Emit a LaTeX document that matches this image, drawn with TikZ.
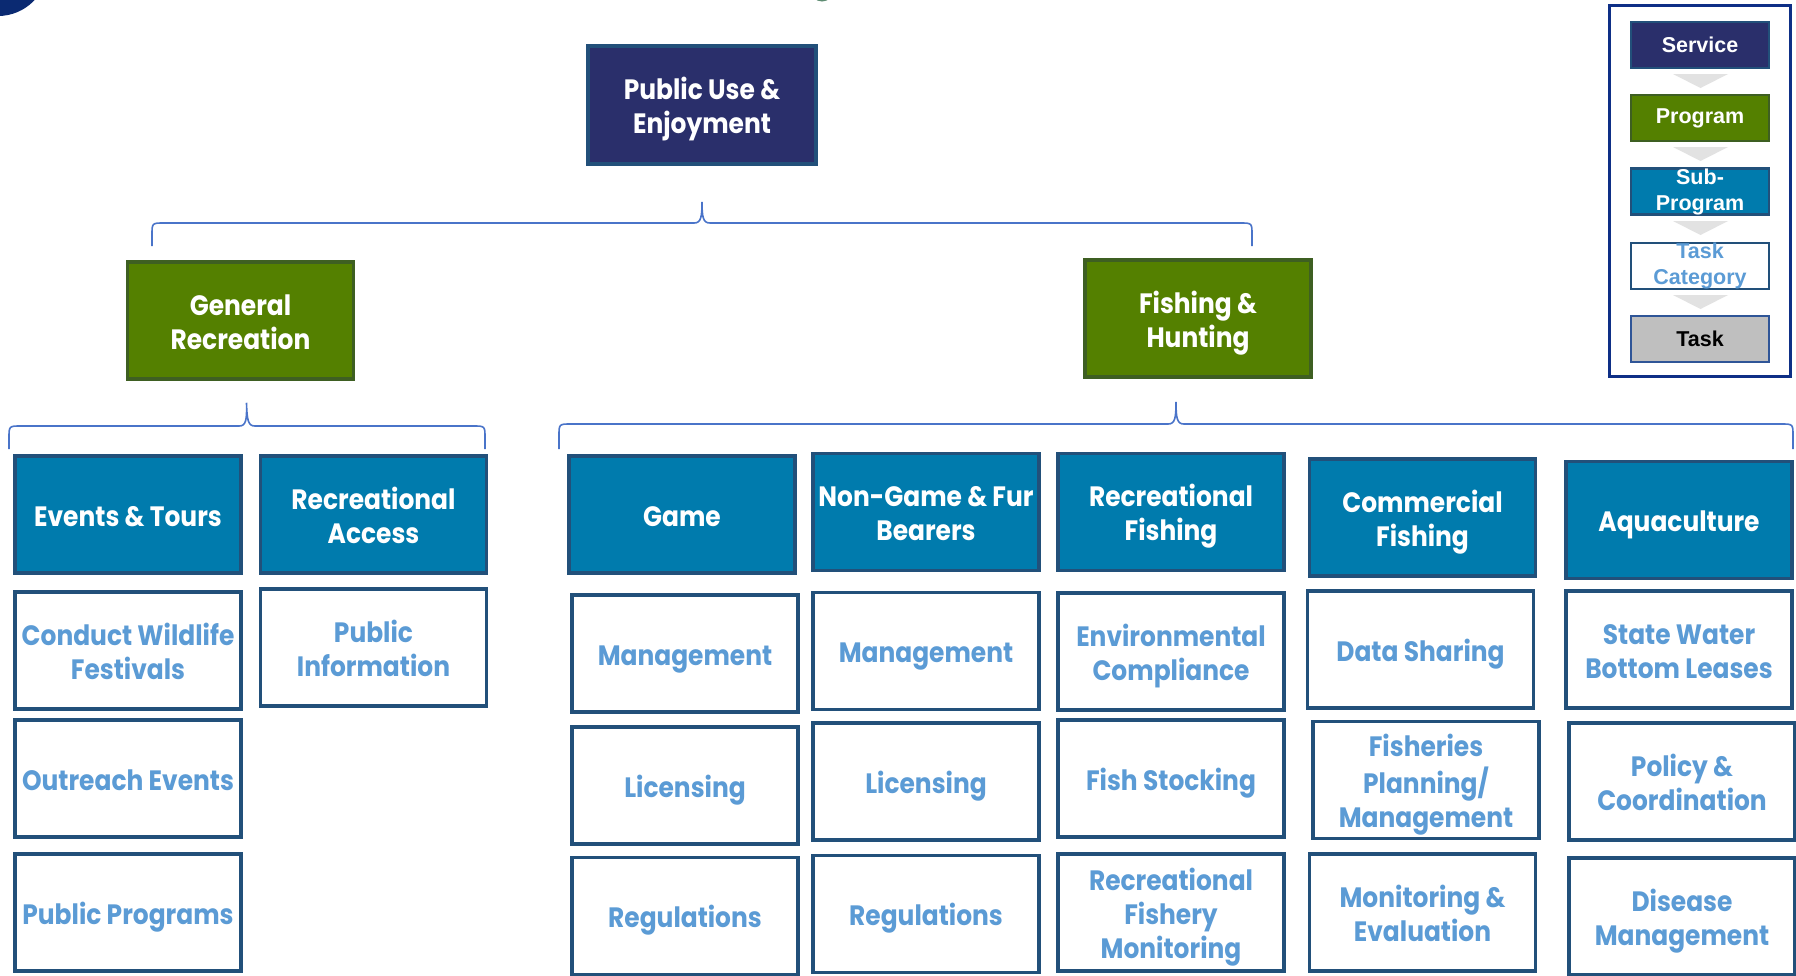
\documentclass[tikz,border=0pt]{standalone}
\usepackage{fontspec}
\setmainfont{Poppins}[FakeStretch=0.89]
\newfontfamily\legendfont{Liberation Sans}
\usetikzlibrary{calc}
\definecolor{navyfill}{HTML}{2A2F6B}
\definecolor{bordblue}{HTML}{22507A}
\definecolor{progfill}{HTML}{548000}
\definecolor{progbord}{HTML}{3E5F22}
\definecolor{subfill}{HTML}{007BAD}
\definecolor{tasktext}{HTML}{5B9BD5}
\definecolor{bracecol}{HTML}{4A74C9}
\definecolor{legframe}{HTML}{0E2F86}
\definecolor{chevcol}{HTML}{E2E2E2}
\definecolor{taskgray}{HTML}{BFBFBF}
\definecolor{taskbord}{HTML}{2F5597}
\definecolor{cornercol}{HTML}{0B2A72}
\definecolor{slivercol}{HTML}{5E8C72}
\newcommand\lowtxt[1]{\raisebox{-5pt}[\height][\depth]{\begin{tabular}{@{}c@{}}#1\end{tabular}}}
\tikzset{
  orgbox/.style={draw=bordblue, line width=3.5pt, minimum width=226pt, minimum height=117pt,
    align=center, inner sep=0pt, font=\fontsize{28}{34}\selectfont\bfseries},
  svcbox/.style={orgbox, fill=navyfill, text=white},
  progbox/.style={orgbox, fill=progfill, draw=progbord, text=white},
  subbox/.style={orgbox, fill=subfill, text=white},
  taskbox/.style={orgbox, fill=white, text=tasktext},
  legbox/.style={draw=bordblue, line width=2.5pt, minimum width=138pt, minimum height=46pt,
    align=center, inner sep=0pt, font=\legendfont\fontsize{21.5}{26}\selectfont\bfseries},
  brc/.style={draw=bracecol, line width=1.6pt},
  chev/.style={fill=chevcol, draw=none}
}
\newcommand\orgbrace[4]{%
  \draw[brc] (#1) -- ($(#1|-#4)+(0,12)$) .. controls ($(#1|-#4)$) .. ($(#1|-#4)+(12,0)$)
    -- ($(#4)+(-8,0)$) .. controls ($(#4)+(-1,0)$) and ($(#4)+(0,-6)$) .. (#3)
    .. controls ($(#4)+(0,-6)$) and ($(#4)+(1,0)$) .. ($(#4)+(8,0)$)
    -- ($(#2|-#4)+(-12,0)$) .. controls ($(#2|-#4)$) .. ($(#2|-#4)+(0,12)$) -- (#2);}
\begin{document}
\begin{tikzpicture}[x=1pt,y=-1pt]
\clip (0,0) rectangle (1796,975);
\fill[white] (0,0) rectangle (1796,975);
% corner decorations
\fill[cornercol] (-2,-34) circle (50);
\fill[slivercol] (822,-10) circle (11.5);

% service
\node[svcbox, minimum width=228pt, minimum height=118pt] (pue) at (702,105) {\lowtxt{Public Use \&\\Enjoyment}};
% programs
\node[progbox] (gr) at (240.5,320.5) {\lowtxt{General\\Recreation}};
\node[progbox] (fh) at (1198,318.5) {\lowtxt{Fishing \&\\Hunting}};

% top brace
\coordinate (t1L) at (152,246);
\coordinate (t1R) at (1252,246);
\coordinate (t1T) at ($(pue.south)+(0,36)$);
\coordinate (t1H) at (702,223);
\orgbrace{t1L}{t1R}{t1T}{t1H}

% sub-programs
\node[subbox] (et) at (128,514.5) {\lowtxt{Events \& Tours}};
\node[subbox] (ra) at (373.5,514.5) {\lowtxt{Recreational\\Access}};
\node[subbox] (game) at (682,514.5) {\lowtxt{Game}};
\node[subbox] (ng) at (926,512) {\lowtxt{Non-Game \& Fur\\Bearers}};
\node[subbox] (rf) at (1171,512) {\lowtxt{Recreational\\Fishing}};
\node[subbox] (cf) at (1422.5,517.5) {\lowtxt{Commercial\\Fishing}};
\node[subbox] (aq) at (1679,520) {\lowtxt{Aquaculture}};

% left brace
\coordinate (t2L) at (9,449);
\coordinate (t2R) at (485,449);
\coordinate (t2T) at ($(gr.south)+(6,22)$);
\coordinate (t2H) at (247,426);
\orgbrace{t2L}{t2R}{t2T}{t2H}
% right brace
\coordinate (t3L) at (559,449);
\coordinate (t3R) at (1793,449);
\coordinate (t3T) at ($(fh.south)+(-22,23)$);
\coordinate (t3H) at (1176,424);
\orgbrace{t3L}{t3R}{t3T}{t3H}

% task categories
\node[taskbox] (cwf) at (128,650.5) {\lowtxt{Conduct Wildlife\\Festivals}};
\node[taskbox] (oe) at (128,778.5) {\lowtxt{Outreach Events}};
\node[taskbox] (pp) at (128,912.5) {\lowtxt{Public Programs}};
\node[taskbox] (pi) at (373.5,647.5) {\lowtxt{Public\\Information}};

\node[taskbox] (gm) at (685,653.5) {\lowtxt{Management}};
\node[taskbox] (gl) at (685,785.5) {\lowtxt{Licensing}};
\node[taskbox] (gg) at (685,916) {\lowtxt{Regulations}};

\node[taskbox] (nm) at (926,651) {\lowtxt{Management}};
\node[taskbox] (nl) at (926,781.5) {\lowtxt{Licensing}};
\node[taskbox] (nr) at (926,914) {\lowtxt{Regulations}};

\node[taskbox] (ec) at (1171,651.5) {\lowtxt{Environmental\\Compliance}};
\node[taskbox] (fs) at (1171,778.5) {\lowtxt{Fish Stocking}};
\node[taskbox] (rfm) at (1171,912.5) {\lowtxt{Recreational\\Fishery\\Monitoring}};

\node[taskbox] (ds) at (1420.5,649.5) {\lowtxt{Data Sharing}};
\node[taskbox] (fpm) at (1426,780) {\lowtxt{Fisheries\\Planning/\\Management}};
\node[taskbox] (me) at (1422.5,912.5) {\lowtxt{Monitoring \&\\Evaluation}};

\node[taskbox] (sw) at (1679,649.5) {\lowtxt{State Water\\Bottom Leases}};
\node[taskbox] (pc) at (1682,781.5) {\lowtxt{Policy \&\\Coordination}};
\node[taskbox] (dm) at (1682,916.5) {\lowtxt{Disease\\Management}};

% legend
\node[draw=legframe, line width=3pt, minimum width=181pt, minimum height=371pt, inner sep=0pt] (leg) at (1699.5,190.5) {};
\fill[chev] (1673,74) -- (1728,74) -- (1700.5,88) -- cycle;
\fill[chev] (1673,147) -- (1728,147) -- (1700.5,161) -- cycle;
\fill[chev] (1673,221) -- (1728,221) -- (1700.5,235) -- cycle;
\fill[chev] (1673,295) -- (1728,295) -- (1700.5,309) -- cycle;
\node[legbox, fill=navyfill, text=white] (lsvc) at (1700,45) {Service};
\node[legbox, fill=progfill, draw=progbord, text=white] (lprog) at (1700,118) {Program};
\node[legbox, fill=subfill, text=white] (lsub) at (1700,191.5) {Sub-\\Program};
\node[legbox, fill=white, text=tasktext] (ltc) at (1700,266) {Task\\Category};
\node[legbox, fill=taskgray, draw=taskbord, text=black] (ltask) at (1700,339) {Task};
\end{tikzpicture}
\end{document}
